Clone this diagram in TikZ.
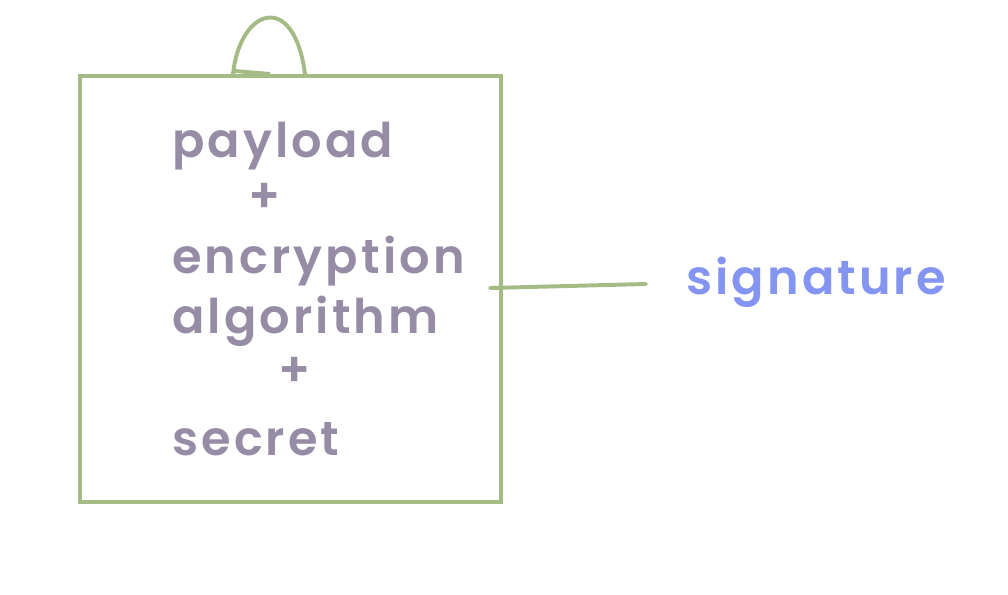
\documentclass[tikz,border=0pt]{standalone}
\usepackage{fontspec}
\setmainfont{Poppins}[UprightFont=* SemiBold, LetterSpace=6.5]
\usetikzlibrary{positioning, calc}
\definecolor{Frame}{HTML}{A5BB85}
\definecolor{Words}{HTML}{968CA5}
\definecolor{Sign}{HTML}{8494F2}
\tikzset{
    textline/.style={anchor=base west, inner sep=0pt, text=Words, font=\fontsize{34}{40}\selectfont},
    plusline/.style={inner sep=0pt, text=Words, font=\fontsize{34}{40}\selectfont},
    frameline/.style={draw=Frame, line width=2.8pt},
}
\begin{document}
\begin{tikzpicture}[x=0.025cm, y=-0.025cm]
    \useasboundingbox (0,0) rectangle (1008,594);

    % Box with the inputs
    \node[frameline, minimum width=421*0.025cm, minimum height=426*0.025cm, anchor=north west] (box) at (78,74) {};

    % Loop on top of the box
    \coordinate (loopa) at (233,74);
    \coordinate (loopb) at (305,74);
    \draw[frameline, line cap=round] (loopa) .. controls (240,8) and (294,-10) .. (loopb);
    \draw[frameline] ($(loopa)+(2,-3)$) -- (270,74);

    % Texts inside
    \node[textline] (payload) at (172,157) {payload};
    \node[plusline] (plusa) at (265,198) {+};
    \node[textline] (encryption) at (172,273) {encryption};
    \node[textline] (algorithm) at (172,333) {algorithm};
    \node[plusline] (plusb) at (295,372) {+};
    \node[textline] (secret) at (172,455) {secret};

    % Output
    \node[textline, text=Sign] (signature) at (686,294) {signature};
    \coordinate (start) at (490,288);
    \coordinate (stop) at (646,284);
    \draw[frameline, line cap=round] (start) -- (stop);
\end{tikzpicture}
\end{document}
